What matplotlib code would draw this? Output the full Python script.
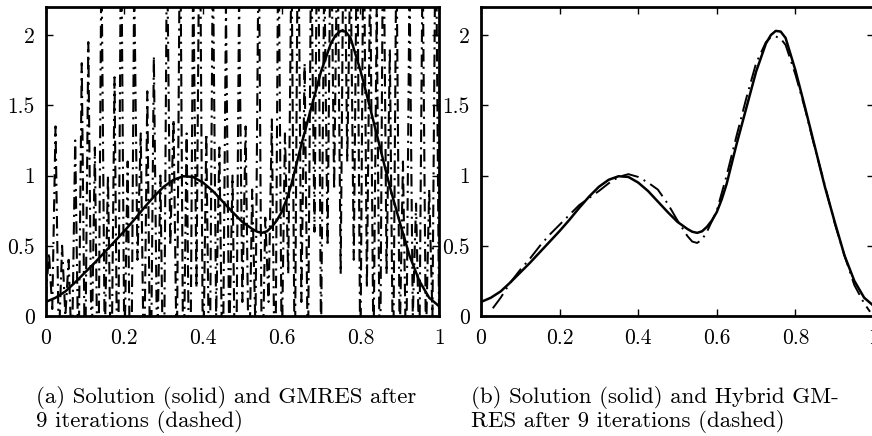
import numpy as np
import matplotlib.pyplot as plt

plt.rcParams['font.family'] = ['cmr10', 'DejaVu Serif']
plt.rcParams['axes.formatter.use_mathtext'] = True

# exact solution
x_sol = [0.0, 0.025, 0.05, 0.075, 0.1, 0.125, 0.15, 0.175, 0.2, 0.225,
         0.25, 0.275, 0.3, 0.325, 0.35, 0.375, 0.4, 0.425, 0.45, 0.475,
         0.5, 0.525, 0.5375, 0.55, 0.5625, 0.575, 0.5875, 0.6, 0.6125, 0.625,
         0.65, 0.675, 0.7, 0.725, 0.7375, 0.75, 0.7625, 0.775, 0.8, 0.825,
         0.85, 0.875, 0.9, 0.925, 0.95, 0.975, 1.0]
y_sol = [0.10, 0.13, 0.175, 0.24, 0.31, 0.38, 0.455, 0.53, 0.605, 0.685,
         0.77, 0.85, 0.92, 0.97, 0.995, 0.99, 0.95, 0.89, 0.815, 0.74,
         0.67, 0.62, 0.60, 0.592, 0.603, 0.635, 0.68, 0.74, 0.83, 0.94,
         1.22, 1.48, 1.74, 1.94, 2.0, 2.03, 2.025, 1.98, 1.75, 1.48,
         1.20, 0.92, 0.67, 0.43, 0.25, 0.13, 0.07]

# GMRES after 9 iterations (wildly oscillating), values on the grid
y_gmres = [0.12, 0.45, 0.05, 1.35, -0.2, 0.5, 0.0, 0.4, -0.3, 1.25, -0.4, 1.8,
           -0.5, 1.95, -0.3, 1.2, -0.8, 2.6, -0.2, 1.0, -0.6, 1.7, -0.9, 2.9,
           -0.3, 1.1, -1.0, 2.4, 0.4, 1.3, -0.5, 1.6, -0.7, 1.85, -0.3, 1.0,
           -0.8, 2.7, 0.5, 1.4, -0.4, 3.0, -0.6, 1.3, -1.0, 2.5, 0.2, 3.2,
           -0.5, 1.3, -0.7, 2.6, 0.0, 1.2, -0.6, 2.2, -0.2, 1.0, -0.9, 2.3,
           0.1, 1.35, -0.5, 0.9, -0.1, 2.8, -0.6, 0.7, 0.1, 1.4, -0.8, 2.9,
           -0.3, 1.3, 0.3, 2.6, -0.5, 3.1, 0.1, 1.8, -0.4, 2.7, 0.6, 3.3,
           -0.2, 2.5, 0.5, 3.0, 0.9, 2.8, 0.3, 3.2, 1.1, 2.6, 0.4, 2.9,
           -0.4, 3.0, 0.2, 2.5, -0.3, 2.2, -0.6, 3.1, 0.3, 1.9, -0.5, 2.7,
           -0.2, 1.1, -0.4, 2.4, 0.0, 0.8, -0.3, 2.6, -0.2, 0.9, 0.0, 3.0, 0.05]
x_gmres = np.linspace(0, 1, len(y_gmres))

# Hybrid GMRES after 9 iterations
x_hyb = [0.03, 0.05, 0.075, 0.1, 0.125, 0.15, 0.175, 0.2, 0.225, 0.25,
         0.275, 0.3, 0.325, 0.35, 0.375, 0.4, 0.425, 0.45, 0.475, 0.5,
         0.525, 0.5375, 0.55, 0.5625, 0.575, 0.6, 0.625, 0.65, 0.675, 0.7,
         0.725, 0.7375, 0.75, 0.7625, 0.775, 0.8, 0.825, 0.85, 0.875, 0.9,
         0.925, 0.95, 0.975, 0.99]
y_hyb = [0.055, 0.13, 0.24, 0.33, 0.41, 0.50, 0.58, 0.65, 0.72, 0.79,
         0.84, 0.89, 0.945, 0.99, 1.01, 0.99, 0.95, 0.90, 0.80, 0.68,
         0.57, 0.53, 0.52, 0.545, 0.60, 0.75, 1.00, 1.28, 1.55, 1.80,
         1.95, 1.985, 1.99, 1.975, 1.93, 1.72, 1.47, 1.19, 0.93, 0.66,
         0.43, 0.22, 0.09, 0.03]

xticks = [0, 0.2, 0.4, 0.6, 0.8, 1]
xticklabels = ['0', '0.2', '0.4', '0.6', '0.8', '1']
yticks = [0, 0.5, 1, 1.5, 2]
yticklabels = ['0', '0.5', '1', '1.5', '2']

captions = ['(a) Solution (solid) and GMRES after\n9 iterations (dashed)',
            '(b) Solution (solid) and Hybrid GM-\nRES after 9 iterations (dashed)']

fig = plt.figure(figsize=(8.72, 4.36), dpi=100)
ax1 = fig.add_axes([45.7/872, 120/436, 393.3/872, 309/436])
ax2 = fig.add_axes([481/872, 120/436, 393/872, 309/436])

ax1.plot(x_gmres, y_gmres, color='k', lw=1.5, dashes=(6, 2.5, 1, 2.5))
ax1.plot(x_sol, y_sol, color='k', lw=1.8)
ax2.plot(x_hyb, y_hyb, color='k', lw=1.4, dashes=(9, 3, 1, 3))
ax2.plot(x_sol, y_sol, color='k', lw=1.8)

for ax, cap in zip([ax1, ax2], captions):
    ax.set_xlim(0, 1)
    ax.set_ylim(0, 2.2)
    ax.set_xticks(xticks)
    ax.set_xticklabels(xticklabels)
    ax.set_yticks(yticks)
    ax.set_yticklabels(yticklabels)
    ax.tick_params(direction='in', top=True, right=True, length=5, width=1,
                   labelsize=15.5)
    ax.tick_params(axis='y', pad=8)
    ax.tick_params(axis='x', pad=9)
    for s in ax.spines.values():
        s.set_linewidth(2)
    ax.text(-0.025, -0.225, cap, transform=ax.transAxes, fontsize=16.5,
            va='top', ha='left', linespacing=1.1)

fig.savefig('out.png', dpi=100)
